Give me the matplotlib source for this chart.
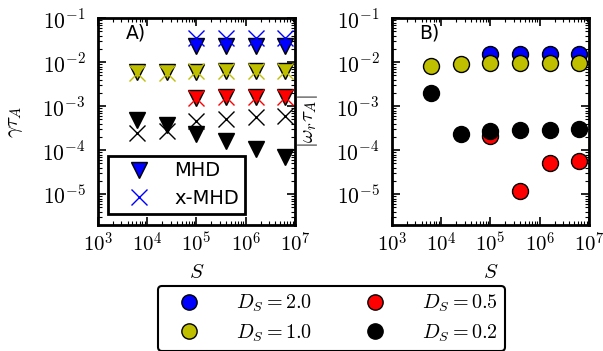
import math
import matplotlib
matplotlib.use("Agg")
import matplotlib.pyplot as plt
from matplotlib.lines import Line2D
from matplotlib.ticker import FuncFormatter, LogLocator

plt.rcParams['mathtext.fontset'] = 'cm'
plt.rcParams['font.family'] = ['DejaVu Sans']

# Lundquist numbers
S_all = [6.25e3, 2.5e4, 1.0e5, 4.0e5, 1.6e6, 6.4e6]
S_hi = [1.0e5, 4.0e5, 1.6e6, 6.4e6]

# Panel A: growth rates (MHD triangles, x-MHD crosses)
gam_mhd_D20 = [0.023, 0.023, 0.023, 0.023]
gam_xmhd_D20 = [0.036, 0.036, 0.036, 0.036]
gam_mhd_D10 = [0.0060, 0.0060, 0.0060, 0.0062, 0.0062, 0.0062]
gam_xmhd_D10 = [0.0058, 0.0058, 0.0062, 0.0064, 0.0064, 0.0064]
gam_mhd_D05 = [1.5e-3, 1.6e-3, 1.6e-3, 1.6e-3]
gam_xmhd_D05 = [1.5e-3, 1.6e-3, 1.6e-3, 1.6e-3]
gam_mhd_D02 = [4.8e-4, 3.8e-4, 2.3e-4, 1.6e-4, 1.07e-4, 7.2e-5]
gam_xmhd_D02 = [2.5e-4, 2.7e-4, 4.6e-4, 5.2e-4, 5.7e-4, 5.9e-4]

# Panel B: real frequencies
om_D20 = [0.0155, 0.0155, 0.0155, 0.0155]
om_D10 = [0.0081, 0.0092, 0.0097, 0.0097, 0.0097, 0.0097]
om_D05 = [2.1e-4, 1.17e-5, 5.0e-5, 5.6e-5]
om_D02 = [2.0e-3, 2.36e-4, 2.7e-4, 2.85e-4, 2.85e-4, 3.1e-4]

legend_labels = [r'$D_S=2.0$', r'$D_S=1.0$', r'$D_S=0.5$', r'$D_S=0.2$']
colors = ['b', 'y', 'r', 'k']

fig = plt.figure(figsize=(6.03, 3.51), dpi=100)
axA = fig.add_axes([0.1625, 0.359, 0.3267, 0.589])
axB = fig.add_axes([0.650, 0.359, 0.3267, 0.589])

ms = 12
tri_kw = dict(marker='v', linestyle='none', markersize=ms, markeredgecolor='k', markeredgewidth=1.0)
x_kw = dict(marker='x', linestyle='none', markersize=ms, markeredgewidth=1.0)

axA.plot(S_hi, gam_mhd_D20, color='b', **tri_kw)
axA.plot(S_all, gam_mhd_D10, color='y', **tri_kw)
axA.plot(S_hi, gam_mhd_D05, color='r', **tri_kw)
axA.plot(S_all, gam_mhd_D02, color='k', **tri_kw)
axA.plot(S_hi, gam_xmhd_D20, color='b', **x_kw)
axA.plot(S_all, gam_xmhd_D10, color='y', **x_kw)
axA.plot(S_hi, gam_xmhd_D05, color='r', **x_kw)
axA.plot(S_all, gam_xmhd_D02, color='k', **x_kw)

c_kw = dict(marker='o', linestyle='none', markersize=11.5, markeredgecolor='k', markeredgewidth=1.0)
axB.plot(S_hi, om_D20, color='b', **c_kw)
axB.plot(S_all, om_D10, color='y', **c_kw)
axB.plot(S_hi, om_D05, color='r', **c_kw)
axB.plot(S_all, om_D02, color='k', **c_kw)

fmt = FuncFormatter(lambda v, p: r'$10^{%d}$' % round(math.log10(v)))
for ax in (axA, axB):
    ax.set_xscale('log')
    ax.set_yscale('log')
    ax.set_xlim(1e3, 1e7)
    ax.set_ylim(2e-6, 1e-1)
    ax.xaxis.set_major_locator(LogLocator(base=10, numticks=10))
    ax.yaxis.set_major_locator(LogLocator(base=10, numticks=10))
    ax.xaxis.set_minor_locator(LogLocator(base=10, subs=range(2, 10), numticks=20))
    ax.yaxis.set_minor_locator(LogLocator(base=10, subs=range(2, 10), numticks=20))
    ax.xaxis.set_major_formatter(fmt)
    ax.yaxis.set_major_formatter(fmt)
    ax.tick_params(which='both', direction='in', top=True, right=True)
    ax.tick_params(axis='y', labelsize=15.5)
    ax.tick_params(axis='x', labelsize=15)
    ax.tick_params(which='major', length=6, width=1.2)
    ax.tick_params(which='minor', length=3, width=0.8)
    ax.tick_params(axis='x', which='major', pad=5)
    ax.tick_params(axis='y', which='major', pad=9)
    for sp in ax.spines.values():
        sp.set_linewidth(2)
    ax.set_xlabel(r'$S$', fontsize=15)
    ax.xaxis.set_label_coords(0.5, -0.18)

axA.set_ylabel(r'$\gamma\tau_A$', fontsize=15)
axA.yaxis.set_label_coords(-0.37, 0.5)
axB.set_ylabel(r'$|\omega_r\tau_A|$', fontsize=15)
axB.yaxis.set_label_coords(-0.365, 0.5)

axA.text(0.14, 0.93, 'A)', transform=axA.transAxes, fontsize=13.5, va='center', ha='left')
axB.text(0.14, 0.93, 'B)', transform=axB.transAxes, fontsize=13.5, va='center', ha='left')

legA_handles = [
    Line2D([], [], marker='v', linestyle='none', color='b', markeredgecolor='k', markersize=ms),
    Line2D([], [], marker='x', linestyle='none', color='b', markersize=ms),
]
legA = axA.legend(legA_handles, ['MHD', 'x-MHD'], loc='lower left', bbox_to_anchor=(0.05, 0.053),
                  fontsize=14, numpoints=1, fancybox=False, framealpha=1, edgecolor='k',
                  handlelength=2.6, handletextpad=0.5, borderpad=0.3, labelspacing=0.45,
                  borderaxespad=0.0)
legA.get_frame().set_linewidth(2)

fig_handles = [Line2D([], [], marker='o', linestyle='none', color=c, markeredgecolor='k',
                      markersize=11) for c in colors]
legF = fig.legend(fig_handles, legend_labels, loc='center', bbox_to_anchor=(0.5498, 0.0926), ncol=2,
                  fontsize=14.5, numpoints=1, framealpha=1, edgecolor='k', fancybox=True,
                  handlelength=2.43, handletextpad=1.13, columnspacing=1.9, borderpad=0.35,
                  labelspacing=0.4, borderaxespad=0.0)
legF.get_frame().set_linewidth(1.5)
legF.get_frame().set_boxstyle('round', pad=0.0, rounding_size=0.2)

fig.savefig('out.png', dpi=100)
